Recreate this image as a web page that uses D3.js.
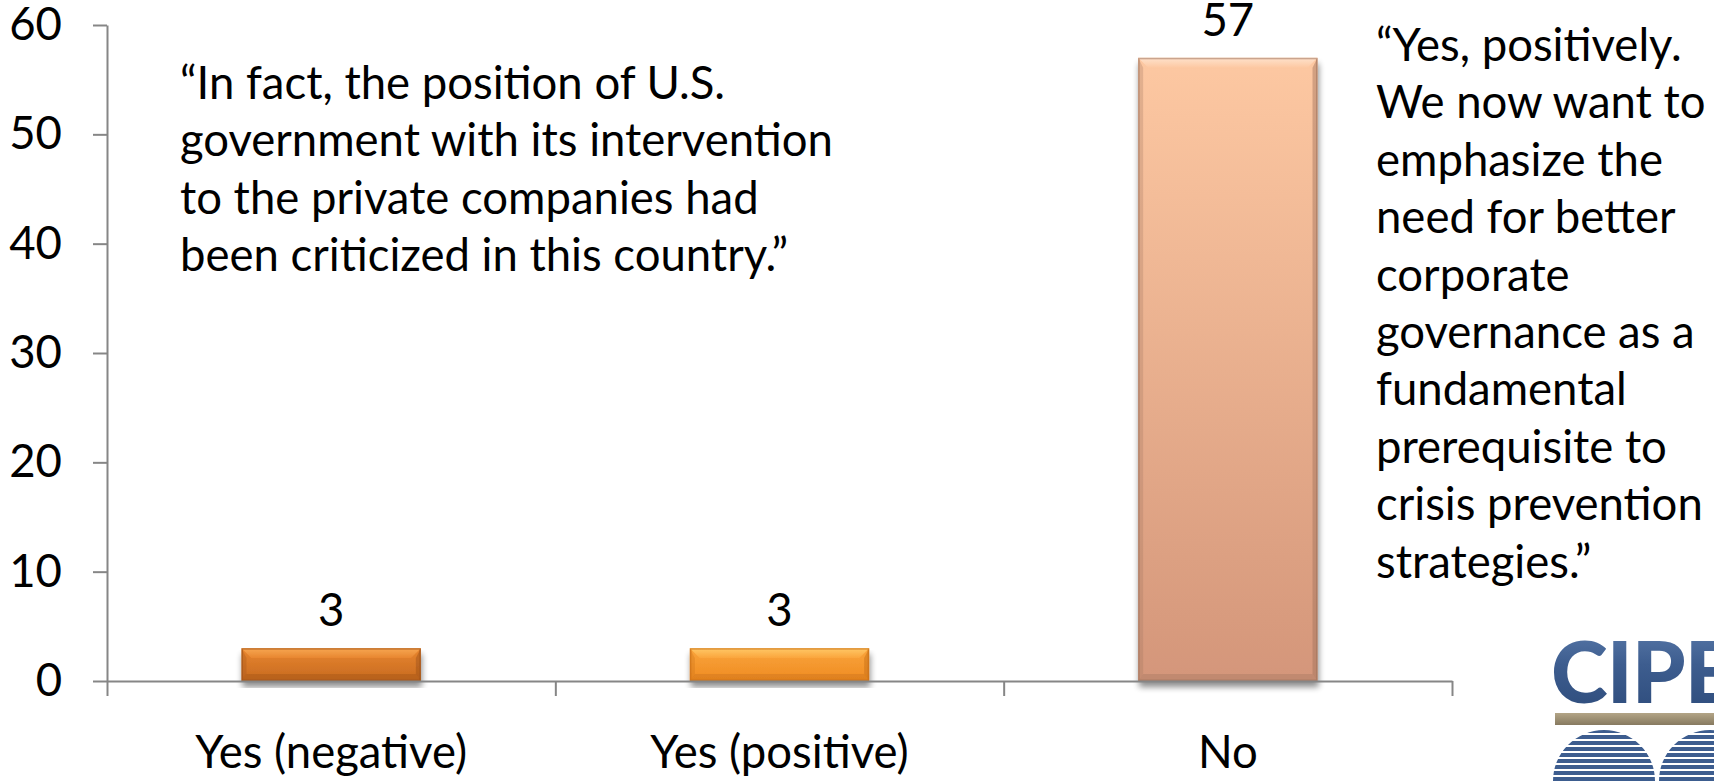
<!DOCTYPE html>
<html>
<head>
<meta charset="utf-8">
<script src="https://cdn.jsdelivr.net/npm/d3@7"></script>
<style>
  html, body { margin: 0; padding: 0; background: #ffffff; }
  svg { display: block; }
  text { font-family: Lato, "Open Sans", "DejaVu Sans", sans-serif; fill: #000; }
</style>
</head>
<body>
<svg id="chart" width="1714" height="781"></svg>
<script>
// Survey responses
const categories = ["Yes (negative)", "Yes (positive)", "No"];
const values = [3, 3, 57];
const yTicks = [0, 10, 20, 30, 40, 50, 60];

// Per-bar bevel palette
const barTop       = ["#e8862f", "#faa53c", "#fdc8a2"];
const barBottom    = ["#c76a20", "#ef8b22", "#d4967a"];
const barHighlight = ["#f7a752", "#ffc867", "#fee2cc"];
const barEdge      = ["#9c5018", "#c46c16", "#9f725c"];

const quoteLeft = [
  "\u201cIn fact, the position of U.S.",
  "government with its intervention",
  "to the private companies had",
  "been criticized in this country.\u201d"
];
const quoteRight = [
  "\u201cYes, positively.",
  "We now want to",
  "emphasize the",
  "need for better",
  "corporate",
  "governance as a",
  "fundamental",
  "prerequisite to",
  "crisis prevention",
  "strategies.\u201d"
];

const svg = d3.select("#chart");
const plot = { left: 107, right: 1452, top: 25, bottom: 681 };

// Fit the text size so the longest quote line spans its column
const probe = svg.append("text").attr("font-size", 48).text(quoteLeft[1]);
const fontSize = 48 * 653 / probe.node().getComputedTextLength();
probe.remove();

const x = d3.scaleBand()
  .domain(categories)
  .range([plot.left, plot.right])
  .paddingInner(0.6)
  .paddingOuter(0.3);

const y = d3.scaleLinear()
  .domain([0, 60])
  .range([plot.bottom, plot.top]);

const defs = svg.append("defs");

const shadow = defs.append("filter")
  .attr("id", "barShadow")
  .attr("x", "-10%").attr("y", "-10%")
  .attr("width", "120%").attr("height", "130%");
shadow.append("feGaussianBlur").attr("in", "SourceAlpha").attr("stdDeviation", 3);
shadow.append("feOffset").attr("dx", 1).attr("dy", 6).attr("result", "off");
shadow.append("feComponentTransfer").append("feFuncA").attr("type", "linear").attr("slope", 0.45);
const merge = shadow.append("feMerge");
merge.append("feMergeNode");
merge.append("feMergeNode").attr("in", "SourceGraphic");

categories.forEach((c, i) => {
  const g = defs.append("linearGradient")
    .attr("id", "body" + i)
    .attr("x1", 0).attr("y1", 0).attr("x2", 0).attr("y2", 1);
  g.append("stop").attr("offset", "0%").attr("stop-color", barTop[i]);
  g.append("stop").attr("offset", "100%").attr("stop-color", barBottom[i]);

  const h = defs.append("linearGradient")
    .attr("id", "hi" + i)
    .attr("x1", 0).attr("y1", 0).attr("x2", 0).attr("y2", 1);
  h.append("stop").attr("offset", "0%").attr("stop-color", barHighlight[i]);
  h.append("stop").attr("offset", "100%").attr("stop-color", barTop[i]);
});

// Bars with a soft bevel
const bars = svg.append("g").attr("class", "bars");
categories.forEach((c, i) => {
  const x0 = x(c), x1 = x(c) + x.bandwidth();
  const y0 = y(values[i]), y1 = y(0);
  const h = y1 - y0;
  const bt = Math.min(10, h * 0.3), bb = Math.min(7, h * 0.22), bs = 5;
  const bar = bars.append("g").attr("filter", "url(#barShadow)");

  bar.append("rect")
    .attr("x", x0).attr("y", y0)
    .attr("width", x1 - x0).attr("height", h)
    .attr("fill", `url(#body${i})`);

  // top bevel
  bar.append("path")
    .attr("d", `M${x0},${y0}L${x1},${y0}L${x1 - bt},${y0 + bt}L${x0 + bt},${y0 + bt}Z`)
    .attr("fill", `url(#hi${i})`);
  // left bevel
  bar.append("path")
    .attr("d", `M${x0},${y0}L${x0 + bs},${y0 + bt}L${x0 + bs},${y1 - bb}L${x0},${y1}Z`)
    .attr("fill", barEdge[i]).attr("fill-opacity", 0.28);
  // right bevel
  bar.append("path")
    .attr("d", `M${x1},${y0}L${x1 - bs},${y0 + bt}L${x1 - bs},${y1 - bb}L${x1},${y1}Z`)
    .attr("fill", barEdge[i]).attr("fill-opacity", 0.45);
  // bottom bevel
  bar.append("path")
    .attr("d", `M${x0},${y1}L${x0 + bs},${y1 - bb}L${x1 - bs},${y1 - bb}L${x1},${y1}Z`)
    .attr("fill", barEdge[i]).attr("fill-opacity", 0.35);
  // outline
  bar.append("rect")
    .attr("x", x0 + 0.75).attr("y", y0 + 0.75)
    .attr("width", x1 - x0 - 1.5).attr("height", h - 1.5)
    .attr("fill", "none")
    .attr("stroke", barEdge[i]).attr("stroke-opacity", 0.55).attr("stroke-width", 1.5);
});

// Value labels
svg.append("g").selectAll("text")
  .data(values)
  .join("text")
  .attr("x", (d, i) => x(categories[i]) + x.bandwidth() / 2)
  .attr("y", d => y(d) - 22)
  .attr("text-anchor", "middle")
  .attr("font-size", fontSize)
  .text(d => d);

// Axes
const axisColor = "#868686";
const yAxis = svg.append("g")
  .attr("transform", `translate(${plot.left},0)`)
  .call(d3.axisLeft(y).tickValues(yTicks).tickSize(14).tickSizeOuter(0).tickPadding(31));
yAxis.selectAll("text").attr("font-size", fontSize).attr("font-family", null);

const xEdges = d3.scaleLinear().domain([0, categories.length]).range([plot.left, plot.right]);
const xAxis = svg.append("g")
  .attr("transform", `translate(0,${plot.bottom})`)
  .call(d3.axisBottom(xEdges).tickValues(d3.range(categories.length + 1))
    .tickSize(15).tickSizeOuter(0).tickFormat(""));

[yAxis, xAxis].forEach(a => {
  a.select(".domain").attr("stroke", axisColor).attr("stroke-width", 2);
  a.selectAll(".tick line").attr("stroke", axisColor).attr("stroke-width", 2);
});

// Category labels
svg.append("g").selectAll("text")
  .data(categories)
  .join("text")
  .attr("x", d => x(d) + x.bandwidth() / 2)
  .attr("y", 768)
  .attr("text-anchor", "middle")
  .attr("font-size", fontSize)
  .text(d => d);

// Quotes
const lineGap = 57.4;
svg.append("text")
  .attr("font-size", fontSize)
  .selectAll("tspan")
  .data(quoteLeft)
  .join("tspan")
  .attr("x", 180)
  .attr("y", (d, i) => 99 + i * lineGap)
  .text(d => d);

svg.append("text")
  .attr("font-size", fontSize)
  .selectAll("tspan")
  .data(quoteRight)
  .join("tspan")
  .attr("x", 1376)
  .attr("y", (d, i) => 61 + i * lineGap)
  .text(d => d);

// CIPE logo
const blue = defs.append("linearGradient")
  .attr("id", "logoBlue").attr("x1", 0).attr("y1", 0).attr("x2", 0).attr("y2", 1);
blue.append("stop").attr("offset", "0%").attr("stop-color", "#5f7fae");
blue.append("stop").attr("offset", "45%").attr("stop-color", "#3d5d8f");
blue.append("stop").attr("offset", "100%").attr("stop-color", "#2c4a79");

const tan = defs.append("linearGradient")
  .attr("id", "logoTan").attr("x1", 0).attr("y1", 0).attr("x2", 0).attr("y2", 1);
tan.append("stop").attr("offset", "0%").attr("stop-color", "#b3a587");
tan.append("stop").attr("offset", "100%").attr("stop-color", "#877a60");

const globeClip = defs.append("clipPath").attr("id", "globeClip");
globeClip.append("circle").attr("cx", 1604).attr("cy", 781).attr("r", 51);
globeClip.append("circle").attr("cx", 1710).attr("cy", 781).attr("r", 51);

const logo = svg.append("g");
logo.append("text")
  .attr("x", 1551).attr("y", 703)
  .attr("font-weight", 900)
  .attr("font-size", 86)
  .attr("letter-spacing", -1)
  .style("fill", "url(#logoBlue)")
  .text("CIPE");

logo.append("rect")
  .attr("x", 1555).attr("y", 713)
  .attr("width", 170).attr("height", 12)
  .attr("fill", "url(#logoTan)");

const globe = logo.append("g").attr("clip-path", "url(#globeClip)");
globe.selectAll("rect")
  .data(d3.range(729, 781, 6))
  .join("rect")
  .attr("x", 1550).attr("y", d => d)
  .attr("width", 170).attr("height", 4)
  .attr("fill", "#3d5d8f");
</script>
</body>
</html>
